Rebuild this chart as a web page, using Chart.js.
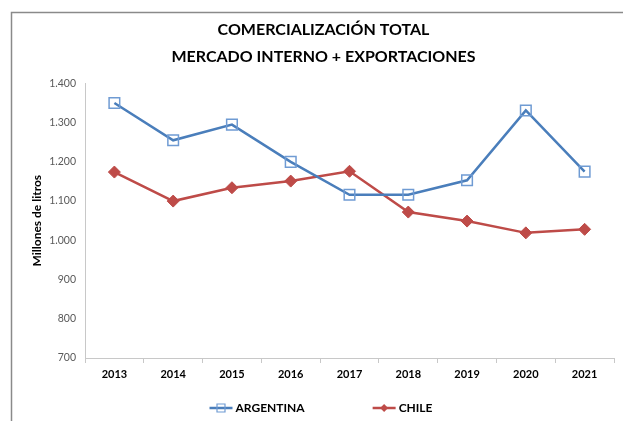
<!DOCTYPE html>
<html>
<head>
<meta charset="utf-8">
<title>Comercialización total</title>
<script src="https://cdn.jsdelivr.net/npm/chart.js@4.4.1/dist/chart.umd.min.js"></script>
<style>
    body { margin: 0; background: #fff; }
    #wrap { position: relative; width: 623px; height: 421px; }
</style>
</head>
<body>
<div id="wrap"><canvas id="myChart"></canvas></div>
<script>
"use strict";

// data
const years = ['2013', '2014', '2015', '2016', '2017', '2018', '2019', '2020', '2021'];
const argentina = [1350, 1255, 1295, 1200, 1116, 1116, 1153, 1331, 1175];
const chile = [1174, 1100, 1134, 1151, 1176, 1072, 1049, 1019, 1028];
const yTicks = [700, 800, 900, 1000, 1100, 1200, 1300, 1400];

const FONT = 'Lato, "Noto Sans", sans-serif';
const blue = '#4a7ebb';
const red = '#be4b48';

function miles(v) {
    return String(v).replace(/\B(?=(\d{3})+(?!\d))/g, '.');
}

// grey frame like the pasted chart object
const framePlugin = {
    id: 'frame',
    beforeDraw(chart) {
        const c = chart.ctx;
        c.save();
        c.fillStyle = '#fff';
        c.fillRect(0, 0, chart.width, chart.height);
        c.strokeStyle = '#8a8a8a';
        c.lineWidth = 1.5;
        c.beginPath();
        c.moveTo(11.5, chart.height);
        c.lineTo(11.5, 12.5);
        c.lineTo(chart.width, 12.5);
        c.stroke();
        c.restore();
    }
};

// legend with line + marker, like Excel
const legendPlugin = {
    id: 'lineLegend',
    afterDraw(chart) {
        const c = chart.ctx;
        const y = 408;
        const lineW = 23;
        const gap = 68;
        c.save();
        c.font = 'bold 12px ' + FONT;
        c.textBaseline = 'middle';
        const items = chart.data.datasets.map(ds => ({
            ds: ds,
            w: lineW + 3 + c.measureText(ds.label).width
        }));
        const total = items.reduce((s, it) => s + it.w, 0) + gap * (items.length - 1);
        let x = 321 - total / 2;
        items.forEach(it => {
            const ds = it.ds;
            c.strokeStyle = ds.borderColor;
            c.lineWidth = 2.5;
            c.beginPath();
            c.moveTo(x, y);
            c.lineTo(x + lineW, y);
            c.stroke();
            const cx = x + lineW / 2;
            c.beginPath();
            if (ds.pointStyle === 'rect') {
                c.strokeStyle = ds.pointBorderColor;
                c.lineWidth = 1.2;
                c.rect(cx - 4, y - 4, 8, 8);
                c.stroke();
            } else {
                c.fillStyle = ds.pointBackgroundColor;
                c.moveTo(cx - 4, y);
                c.lineTo(cx, y - 4);
                c.lineTo(cx + 4, y);
                c.lineTo(cx, y + 4);
                c.closePath();
                c.fill();
            }
            c.fillStyle = '#000';
            c.textAlign = 'left';
            c.fillText(ds.label, x + lineW + 3, y);
            x += it.w + gap;
        });
        c.restore();
    }
};

const ctx = document.getElementById('myChart').getContext('2d');
const myChart = new Chart(ctx, {
    type: 'line',
    data: {
        labels: years,
        datasets: [{
            label: 'ARGENTINA',
            data: argentina,
            borderColor: blue,
            borderWidth: 2.5,
            pointStyle: 'rect',
            pointRadius: 7.5,
            pointBorderWidth: 1.5,
            pointBorderColor: '#6f9bd3',
            pointBackgroundColor: 'rgba(0,0,0,0)',
            tension: 0
        }, {
            label: 'CHILE',
            data: chile,
            borderColor: red,
            borderWidth: 2.5,
            pointStyle: 'rectRot',
            pointRadius: 6,
            pointBorderWidth: 1,
            pointBorderColor: red,
            pointBackgroundColor: red,
            tension: 0
        }]
    },
    options: {
        responsive: true,
        maintainAspectRatio: false,
        animation: false,
        events: [],
        layout: {
            padding: { top: 14, left: 30, right: 6, bottom: 0 }
        },
        plugins: {
            legend: { display: false },
            tooltip: { enabled: false },
            title: {
                display: true,
                text: ['COMERCIALIZACIÓN TOTAL', 'MERCADO INTERNO + EXPORTACIONES'],
                color: '#000',
                font: { family: FONT, size: 16, weight: 'bold', lineHeight: 1.7 },
                padding: { top: 2, bottom: 13 }
            }
        },
        scales: {
            x: {
                offset: true,
                grid: {
                    display: true,
                    drawOnChartArea: false,
                    drawTicks: true,
                    tickLength: 5,
                    offset: true,
                    color: '#c8c8c8'
                },
                border: { display: true, color: '#c8c8c8', width: 1 },
                ticks: {
                    color: '#000',
                    padding: 5,
                    font: { family: FONT, size: 11, weight: 'bold' }
                },
                afterFit(scale) { scale.height = 63; }
            },
            y: {
                min: 700,
                max: 1400,
                afterBuildTicks(scale) {
                    scale.ticks = yTicks.map(v => ({ value: v }));
                },
                grid: { display: false, drawTicks: false },
                border: { display: true, color: '#c8c8c8', width: 1 },
                ticks: {
                    color: '#595959',
                    padding: 9,
                    font: { family: FONT, size: 10.5 },
                    callback: function (value) { return miles(value); }
                },
                title: {
                    display: true,
                    text: 'Millones de litros',
                    color: '#000',
                    font: { family: FONT, size: 12, weight: 'bold' },
                    padding: 0
                },
                afterFit(scale) { scale.width = 55; }
            }
        }
    },
    plugins: [framePlugin, legendPlugin]
});
</script>
</body>
</html>
